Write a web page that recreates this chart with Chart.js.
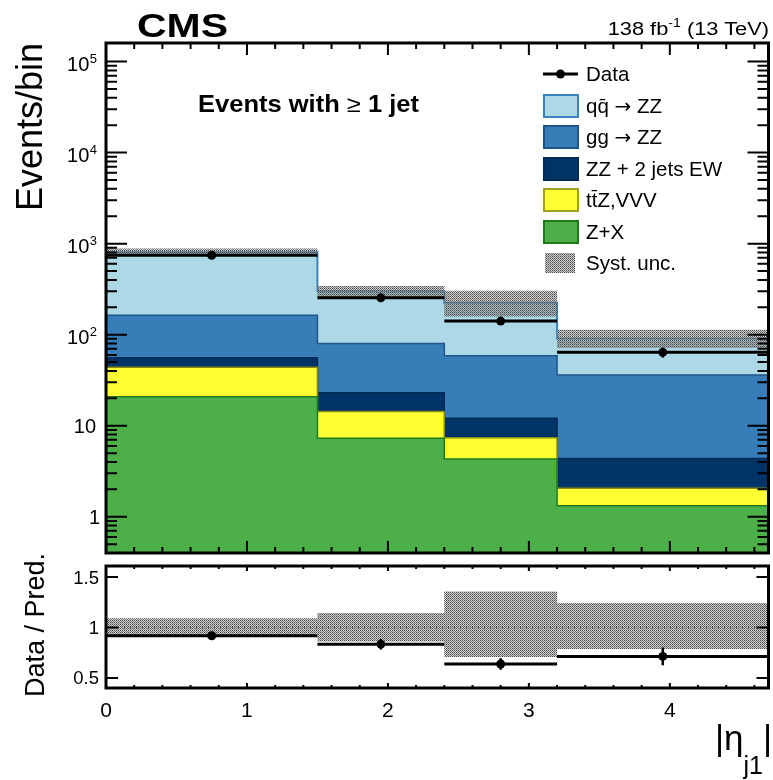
<!DOCTYPE html>
<html lang="en">
<head>
<meta charset="UTF-8" />
<title>CMS - |eta_j1| distribution</title>
<script src="https://cdn.jsdelivr.net/npm/chart.js@4.4.0/dist/chart.umd.min.js"></script>
<style>
  body { margin: 0; background: #fff; }
  #wrap { position: relative; width: 773px; height: 780px; }
  #wrap canvas, #wrap svg { position: absolute; left: 0; }
  #mainChart { top: 0; }
  #ratioChart { top: 560px; }
  #wrap svg { top: 0; pointer-events: none; }
</style>
</head>
<body>
<div id="wrap">
  <canvas id="mainChart" width="773" height="560"></canvas>
  <canvas id="ratioChart" width="773" height="220"></canvas>
  <svg width="773" height="780" font-family="'Liberation Sans', Arial, Helvetica, sans-serif">
    <defs>
      <pattern id="dots" width="2" height="2" patternUnits="userSpaceOnUse">
        <rect x="0" y="0" width="2" height="2" fill="rgba(150,150,150,0.45)" />
        <rect x="0" y="0" width="1" height="1" fill="#4a4a4a" />
        <rect x="1" y="1" width="1" height="1" fill="#7a7a7a" />
      </pattern>
    </defs>
    <!-- header -->
    <text x="137" y="37" font-size="34" font-weight="bold" textLength="91" lengthAdjust="spacingAndGlyphs">CMS</text>
    <text transform="translate(769,35) scale(1.18,1)" font-size="18.5" text-anchor="end">138 fb<tspan font-size="12" dy="-8">-1</tspan><tspan dy="8"> (13 TeV)</tspan></text>
    <text x="198" y="112" font-size="23" font-weight="bold" textLength="221" lengthAdjust="spacingAndGlyphs">Events with <tspan font-weight="normal">≥</tspan> 1 jet</text>
    <!-- axis titles -->
    <text transform="translate(42,43) rotate(-90)" font-size="36" text-anchor="end">Events/bin</text>
    <text transform="translate(44,625) rotate(-90)" font-size="27" text-anchor="middle">Data / Pred.</text>
    <text x="772" y="750" font-size="35" text-anchor="end">|η<tspan font-size="25" dy="24">j1</tspan><tspan dy="-24">|</tspan></text>
    <!-- legend -->
    <g font-size="20.5">
      <line x1="543" y1="74" x2="578" y2="74" stroke="#000" stroke-width="3" />
      <circle cx="560.5" cy="74" r="4.5" fill="#000" />
      <text x="586" y="81">Data</text>
      <rect x="544" y="95" width="34" height="22" fill="#add8e6" stroke="#3b83c0" stroke-width="2" />
      <text x="586" y="113">qq̄ <tspan font-family="'DejaVu Sans', sans-serif" font-size="20">→</tspan> ZZ</text>
      <rect x="544" y="126" width="34" height="22" fill="#377eb8" stroke="#1f5588" stroke-width="2" />
      <text x="586" y="144">gg <tspan font-family="'DejaVu Sans', sans-serif" font-size="20">→</tspan> ZZ</text>
      <rect x="544" y="158" width="34" height="22" fill="#003366" stroke="#002a55" stroke-width="2" />
      <text x="586" y="176">ZZ + 2 jets EW</text>
      <rect x="544" y="189" width="34" height="22" fill="#ffff33" stroke="#a0a020" stroke-width="2" />
      <text x="586" y="207">tt̄Z,VVV</text>
      <rect x="544" y="221" width="34" height="22" fill="#4daf4a" stroke="#1e7b1e" stroke-width="2" />
      <text x="586" y="239">Z+X</text>
      <rect x="545" y="253" width="30" height="20" fill="url(#dots)" />
      <text x="586" y="270">Syst. unc.</text>
    </g>
  </svg>
</div>

<script>
  // bins in |eta_j1|
  const binEdges = [0, 1.5, 2.4, 3.2, 4.7];
  const binCenters = [0.75, 1.95, 2.8, 3.95];

  // expected events per bin, per process (stack order bottom -> top)
  const zxEvents = [20.8, 7.3, 4.3, 1.32];
  const ttzEvents = [23.0, 7.0, 3.1, 0.74];
  const zzjjEvents = [12.0, 8.8, 4.7, 2.3];
  const ggEvents = [108, 57, 46.6, 31.7];
  const qqEvents = [646, 220, 165, 55];

  // observed data
  const dataEvents = [745, 254, 141, 64];
  const dataErr = [27, 16, 12, 8];

  // systematic band (relative to prediction)
  const sysUp = [1.093, 1.143, 1.356, 1.242];
  const sysDown = [0.928, 0.862, 0.707, 0.786];

  // data / prediction
  const ratioVals = [0.918, 0.835, 0.638, 0.713];
  const ratioErr = [0.035, 0.052, 0.057, 0.088];

  // axis ticks
  const xTicks = [0, 1, 2, 3, 4];
  const yDecades = [1, 10, 100, 1000, 10000, 100000];
  const ratioTicks = [0.5, 1, 1.5];

  const FONT = '"Liberation Sans", Arial, sans-serif';

  // dotted grey fill used for the uncertainty band
  function makeHatch() {
    const c = document.createElement('canvas');
    c.width = 2; c.height = 2;
    const g = c.getContext('2d');
    g.fillStyle = 'rgba(150,150,150,0.45)'; g.fillRect(0, 0, 2, 2);
    g.fillStyle = '#4a4a4a'; g.fillRect(0, 0, 1, 1);
    g.fillStyle = '#7a7a7a'; g.fillRect(1, 1, 1, 1);
    return g.createPattern(c, 'repeat');
  }
  const hatch = makeHatch();

  // histogram outline as stepped line
  function histPoints(vals) {
    const pts = vals.map((v, i) => ({ x: binEdges[i], y: v }));
    pts.push({ x: binEdges[vals.length], y: vals[vals.length - 1] });
    return pts;
  }
  function runningSum(list) {
    const out = [];
    let acc = list[0].map(() => 0);
    list.forEach(vals => {
      acc = acc.map((a, i) => a + vals[i]);
      out.push(acc);
    });
    return out;
  }
  // horizontal bar over each bin, broken between bins
  function binBars(vals) {
    const pts = [];
    vals.forEach((v, i) => {
      pts.push({ x: binEdges[i], y: v }, { x: binEdges[i + 1], y: v }, { x: binEdges[i + 1], y: null });
    });
    return pts;
  }
  function errBars(vals, errs) {
    const pts = [];
    vals.forEach((v, i) => {
      pts.push({ x: binCenters[i], y: v - errs[i] }, { x: binCenters[i], y: v + errs[i] }, { x: binCenters[i], y: null });
    });
    return pts;
  }

  const stackDefs = [
    { label: 'Z+X', vals: zxEvents, fill: '#4daf4a', line: '#1e7b1e' },
    { label: 'ttZ,VVV', vals: ttzEvents, fill: '#ffff33', line: '#8a8a10' },
    { label: 'ZZ + 2 jets EW', vals: zzjjEvents, fill: '#003366', line: '#002a55' },
    { label: 'gg -> ZZ', vals: ggEvents, fill: '#377eb8', line: '#1f5588' },
    { label: 'qq -> ZZ', vals: qqEvents, fill: '#add8e6', line: '#3b83c0' }
  ];
  const tops = runningSum(stackDefs.map(s => s.vals));
  const totalPred = tops[tops.length - 1];

  // ROOT style inside ticks on the x axis (top and bottom)
  function drawXTicks(chart, major, minor) {
    const { ctx, chartArea: a, scales: { x } } = chart;
    ctx.beginPath();
    const n = Math.floor(x.max / 0.2 + 1e-9);
    for (let k = 0; k <= n; k++) {
      const px = x.getPixelForValue(k * 0.2);
      const len = k % 5 === 0 ? major : minor;
      ctx.moveTo(px, a.bottom); ctx.lineTo(px, a.bottom - len);
      ctx.moveTo(px, a.top); ctx.lineTo(px, a.top + len);
    }
    ctx.stroke();
  }

  const mainAxes = {
    id: 'mainAxes',
    afterDraw(chart) {
      const { ctx, chartArea: a, scales: { y } } = chart;
      ctx.save();
      ctx.strokeStyle = '#000';
      ctx.lineWidth = 2;
      drawXTicks(chart, 12, 6);
      ctx.beginPath();
      for (let d = 0.1; d <= 1e5; d *= 10) {
        for (let m = 1; m <= 9; m++) {
          const v = m * d;
          if (v < y.min || v > y.max) continue;
          const py = y.getPixelForValue(v);
          const len = m === 1 ? 21 : 11;
          ctx.moveTo(a.left, py); ctx.lineTo(a.left + len, py);
          ctx.moveTo(a.right, py); ctx.lineTo(a.right - len, py);
        }
      }
      ctx.stroke();
      ctx.lineWidth = 3;
      ctx.strokeRect(a.left, a.top, a.right - a.left, a.bottom - a.top);

      // y labels with exponents
      ctx.fillStyle = '#000';
      ctx.textAlign = 'right';
      ctx.textBaseline = 'alphabetic';
      yDecades.forEach(v => {
        const py = y.getPixelForValue(v);
        const e = Math.round(Math.log10(v));
        ctx.font = '20px ' + FONT;
        if (e === 0) {
          ctx.fillText('1', 100, py + 7);
        } else if (e === 1) {
          ctx.fillText('10', 96, py + 7);
        } else {
          ctx.font = '13px ' + FONT;
          const ew = ctx.measureText(String(e)).width;
          ctx.fillText(String(e), 97, py + 1);
          ctx.font = '20px ' + FONT;
          ctx.fillText('10', 97 - ew - 0.5, py + 9);
        }
      });
      ctx.restore();
    }
  };

  const ratioAxes = {
    id: 'ratioAxes',
    afterDraw(chart) {
      const { ctx, chartArea: a, scales: { x, y } } = chart;
      ctx.save();
      ctx.strokeStyle = '#000';
      ctx.lineWidth = 2;
      drawXTicks(chart, 5, 3);
      ctx.beginPath();
      ratioTicks.forEach(v => {
        const py = y.getPixelForValue(v);
        ctx.moveTo(a.left, py); ctx.lineTo(a.left + 12, py);
        ctx.moveTo(a.right, py); ctx.lineTo(a.right - 12, py);
      });
      ctx.stroke();
      ctx.lineWidth = 3;
      ctx.strokeRect(a.left, a.top, a.right - a.left, a.bottom - a.top);

      ctx.fillStyle = '#000';
      ctx.textBaseline = 'alphabetic';
      ctx.font = '18.5px ' + FONT;
      ctx.textAlign = 'right';
      ratioTicks.forEach(v => {
        ctx.fillText(String(v), 99, y.getPixelForValue(v) + 6.5);
      });
      ctx.font = '21px ' + FONT;
      ctx.textAlign = 'center';
      xTicks.forEach(v => {
        ctx.fillText(String(v), x.getPixelForValue(v), 157);
      });
      ctx.restore();
    }
  };

  const common = {
    responsive: false,
    animation: false,
    devicePixelRatio: 1,
    plugins: { legend: { display: false }, tooltip: { enabled: false } },
    elements: { point: { radius: 0 }, line: { tension: 0 } }
  };

  const mainDatasets = stackDefs.map((s, i) => ({
    label: s.label,
    data: histPoints(tops[i]),
    stepped: true,
    fill: i === 0 ? 'start' : '-1',
    backgroundColor: s.fill,
    borderColor: s.line,
    borderWidth: i === stackDefs.length - 1 ? 2 : 1.5,
    order: 3
  }));
  mainDatasets.push(
    { label: 'sysLow', data: histPoints(totalPred.map((t, i) => t * sysDown[i])), stepped: true,
      fill: false, borderColor: 'rgba(0,0,0,0)', borderWidth: 1, order: 2 },
    { label: 'Syst. unc.', data: histPoints(totalPred.map((t, i) => t * sysUp[i])), stepped: true,
      fill: '-1', backgroundColor: hatch, borderColor: 'rgba(0,0,0,0)', borderWidth: 1, order: 2 },
    { label: 'dataBins', data: binBars(dataEvents), fill: false, borderColor: '#000', borderWidth: 3, order: 1 },
    { label: 'dataErr', data: errBars(dataEvents, dataErr), fill: false, borderColor: '#000', borderWidth: 2.5, order: 1 },
    { label: 'Data', data: dataEvents.map((v, i) => ({ x: binCenters[i], y: v })), showLine: false, fill: false,
      pointRadius: 4.5, pointBackgroundColor: '#000', pointBorderColor: '#000', pointBorderWidth: 0, order: 0 }
  );

  new Chart(document.getElementById('mainChart'), {
    type: 'line',
    data: { datasets: mainDatasets },
    options: Object.assign({}, common, {
      layout: { padding: { left: 106, right: 3, top: 43, bottom: 7 } },
      scales: {
        x: { type: 'linear', min: 0, max: 4.7, display: false },
        y: { type: 'logarithmic', min: 0.4, max: 1.6e5, display: false }
      }
    }),
    plugins: [mainAxes]
  });

  new Chart(document.getElementById('ratioChart'), {
    type: 'line',
    data: {
      datasets: [
        { label: 'sysLow', data: histPoints(sysDown), stepped: true, fill: false,
          borderColor: 'rgba(0,0,0,0)', borderWidth: 1, order: 3 },
        { label: 'Syst. unc.', data: histPoints(sysUp), stepped: true, fill: '-1', backgroundColor: hatch,
          borderColor: 'rgba(0,0,0,0)', borderWidth: 1, order: 3 },
        { label: 'unity', data: [{ x: binEdges[0], y: 1 }, { x: binEdges[binEdges.length - 1], y: 1 }], fill: false,
          borderColor: '#555', borderWidth: 1, borderDash: [1, 2], order: 2 },
        { label: 'ratioBins', data: binBars(ratioVals), fill: false, borderColor: '#000', borderWidth: 3, order: 1 },
        { label: 'ratioErr', data: errBars(ratioVals, ratioErr), fill: false, borderColor: '#000', borderWidth: 2.5, order: 1 },
        { label: 'Data / Pred.', data: ratioVals.map((v, i) => ({ x: binCenters[i], y: v })), showLine: false, fill: false,
          pointRadius: 4.5, pointBackgroundColor: '#000', pointBorderColor: '#000', pointBorderWidth: 0, order: 0 }
      ]
    },
    options: Object.assign({}, common, {
      layout: { padding: { left: 106, right: 3, top: 6, bottom: 92 } },
      scales: {
        x: { type: 'linear', min: 0, max: 4.7, display: false },
        y: { type: 'linear', min: 0.4, max: 1.61, display: false }
      }
    }),
    plugins: [ratioAxes]
  });
</script>
</body>
</html>
